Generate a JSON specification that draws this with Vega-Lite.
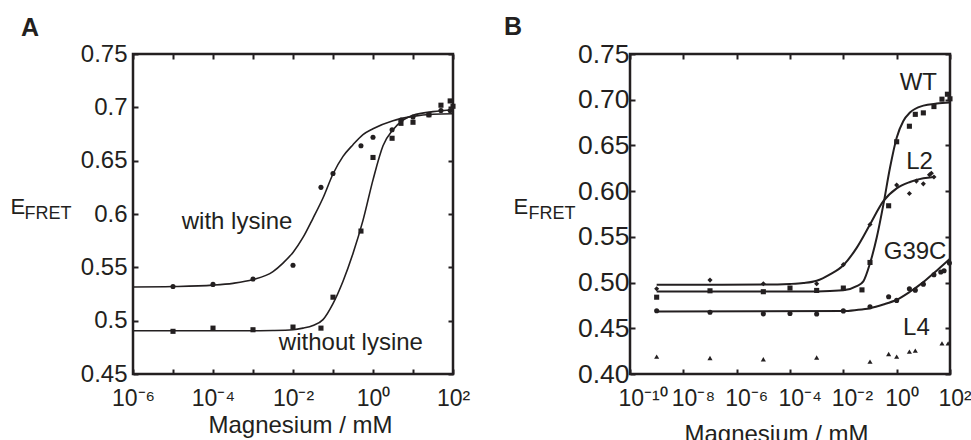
{
  "$schema": "https://vega.github.io/schema/vega-lite/v6.json",
  "background": "white",
  "padding": {"left": 8, "top": 13, "right": 5, "bottom": 0},
  "spacing": 177,
  "bounds": "flush",
  "config": {
    "font": "Liberation Sans",
    "view": {"stroke": "#231f20", "strokeWidth": 2.5},
    "axis": {"grid": false, "domain": false, "tickColor": "#231f20", "tickWidth": 2, "tickSize": -5, "labelColor": "#231f20", "titleColor": "#231f20", "labelFont": "Liberation Sans", "titleFont": "Liberation Sans", "titleFontWeight": "normal"},
    "title": {"font": "Liberation Sans", "color": "#231f20"}
  },
  "datasets": {
    "pts": [
      {"panel": "A", "series": "with lysine", "mg": 1e-5, "efret": 0.532},
      {"panel": "A", "series": "with lysine", "mg": 1e-4, "efret": 0.534},
      {"panel": "A", "series": "with lysine", "mg": 1e-3, "efret": 0.539},
      {"panel": "A", "series": "with lysine", "mg": 0.01, "efret": 0.552},
      {"panel": "A", "series": "with lysine", "mg": 0.05, "efret": 0.625},
      {"panel": "A", "series": "with lysine", "mg": 0.1, "efret": 0.638},
      {"panel": "A", "series": "with lysine", "mg": 0.5, "efret": 0.664},
      {"panel": "A", "series": "with lysine", "mg": 1, "efret": 0.672},
      {"panel": "A", "series": "with lysine", "mg": 3, "efret": 0.679},
      {"panel": "A", "series": "with lysine", "mg": 5, "efret": 0.688},
      {"panel": "A", "series": "with lysine", "mg": 10, "efret": 0.691},
      {"panel": "A", "series": "with lysine", "mg": 25, "efret": 0.693},
      {"panel": "A", "series": "with lysine", "mg": 50, "efret": 0.697},
      {"panel": "A", "series": "with lysine", "mg": 85, "efret": 0.697},
      {"panel": "A", "series": "without lysine", "mg": 1e-5, "efret": 0.49},
      {"panel": "A", "series": "without lysine", "mg": 1e-4, "efret": 0.493},
      {"panel": "A", "series": "without lysine", "mg": 1e-3, "efret": 0.4915},
      {"panel": "A", "series": "without lysine", "mg": 0.01, "efret": 0.494},
      {"panel": "A", "series": "without lysine", "mg": 0.05, "efret": 0.493},
      {"panel": "A", "series": "without lysine", "mg": 0.1, "efret": 0.522},
      {"panel": "A", "series": "without lysine", "mg": 0.5, "efret": 0.584},
      {"panel": "A", "series": "without lysine", "mg": 1, "efret": 0.653},
      {"panel": "A", "series": "without lysine", "mg": 3, "efret": 0.671},
      {"panel": "A", "series": "without lysine", "mg": 5, "efret": 0.685},
      {"panel": "A", "series": "without lysine", "mg": 10, "efret": 0.686},
      {"panel": "A", "series": "without lysine", "mg": 25, "efret": 0.693},
      {"panel": "A", "series": "without lysine", "mg": 50, "efret": 0.702},
      {"panel": "A", "series": "without lysine", "mg": 85, "efret": 0.706},
      {"panel": "A", "series": "without lysine", "mg": 100, "efret": 0.701},
      {"panel": "B", "series": "WT", "mg": 1e-9, "efret": 0.484},
      {"panel": "B", "series": "WT", "mg": 1e-7, "efret": 0.491},
      {"panel": "B", "series": "WT", "mg": 1e-5, "efret": 0.49},
      {"panel": "B", "series": "WT", "mg": 1e-4, "efret": 0.494},
      {"panel": "B", "series": "WT", "mg": 1e-3, "efret": 0.4914},
      {"panel": "B", "series": "WT", "mg": 0.01, "efret": 0.494},
      {"panel": "B", "series": "WT", "mg": 0.05, "efret": 0.492},
      {"panel": "B", "series": "WT", "mg": 0.1, "efret": 0.522},
      {"panel": "B", "series": "WT", "mg": 0.5, "efret": 0.584},
      {"panel": "B", "series": "WT", "mg": 1, "efret": 0.654},
      {"panel": "B", "series": "WT", "mg": 3, "efret": 0.671},
      {"panel": "B", "series": "WT", "mg": 5, "efret": 0.684},
      {"panel": "B", "series": "WT", "mg": 10, "efret": 0.6856},
      {"panel": "B", "series": "WT", "mg": 25, "efret": 0.6925},
      {"panel": "B", "series": "WT", "mg": 50, "efret": 0.7006},
      {"panel": "B", "series": "WT", "mg": 80, "efret": 0.706},
      {"panel": "B", "series": "WT", "mg": 100, "efret": 0.701},
      {"panel": "B", "series": "L2", "mg": 1e-9, "efret": 0.4932},
      {"panel": "B", "series": "L2", "mg": 1e-7, "efret": 0.5027},
      {"panel": "B", "series": "L2", "mg": 1e-5, "efret": 0.4987},
      {"panel": "B", "series": "L2", "mg": 1e-3, "efret": 0.4987},
      {"panel": "B", "series": "L2", "mg": 0.01, "efret": 0.5196},
      {"panel": "B", "series": "L2", "mg": 0.1, "efret": 0.5635},
      {"panel": "B", "series": "L2", "mg": 1, "efret": 0.6066},
      {"panel": "B", "series": "L2", "mg": 3, "efret": 0.5975},
      {"panel": "B", "series": "L2", "mg": 5.5, "efret": 0.611},
      {"panel": "B", "series": "L2", "mg": 10, "efret": 0.608},
      {"panel": "B", "series": "L2", "mg": 17, "efret": 0.618},
      {"panel": "B", "series": "L2", "mg": 20, "efret": 0.6195},
      {"panel": "B", "series": "L2", "mg": 25, "efret": 0.6155},
      {"panel": "B", "series": "G39C", "mg": 1e-9, "efret": 0.4691},
      {"panel": "B", "series": "G39C", "mg": 1e-7, "efret": 0.4676},
      {"panel": "B", "series": "G39C", "mg": 1e-5, "efret": 0.4658},
      {"panel": "B", "series": "G39C", "mg": 1e-4, "efret": 0.4661},
      {"panel": "B", "series": "G39C", "mg": 1e-3, "efret": 0.4656},
      {"panel": "B", "series": "G39C", "mg": 0.01, "efret": 0.469},
      {"panel": "B", "series": "G39C", "mg": 0.1, "efret": 0.4735},
      {"panel": "B", "series": "G39C", "mg": 0.5, "efret": 0.4845},
      {"panel": "B", "series": "G39C", "mg": 1, "efret": 0.4805},
      {"panel": "B", "series": "G39C", "mg": 3, "efret": 0.4933},
      {"panel": "B", "series": "G39C", "mg": 5, "efret": 0.4917},
      {"panel": "B", "series": "G39C", "mg": 10, "efret": 0.4983},
      {"panel": "B", "series": "G39C", "mg": 25, "efret": 0.5086},
      {"panel": "B", "series": "G39C", "mg": 45, "efret": 0.5115},
      {"panel": "B", "series": "G39C", "mg": 60, "efret": 0.513},
      {"panel": "B", "series": "G39C", "mg": 95, "efret": 0.5214},
      {"panel": "B", "series": "L4", "mg": 1e-9, "efret": 0.419},
      {"panel": "B", "series": "L4", "mg": 1e-7, "efret": 0.4175},
      {"panel": "B", "series": "L4", "mg": 1e-5, "efret": 0.4162},
      {"panel": "B", "series": "L4", "mg": 1e-3, "efret": 0.418},
      {"panel": "B", "series": "L4", "mg": 0.1, "efret": 0.4135},
      {"panel": "B", "series": "L4", "mg": 0.5, "efret": 0.4219},
      {"panel": "B", "series": "L4", "mg": 1, "efret": 0.419},
      {"panel": "B", "series": "L4", "mg": 3, "efret": 0.4245},
      {"panel": "B", "series": "L4", "mg": 5, "efret": 0.4256},
      {"panel": "B", "series": "L4", "mg": 50, "efret": 0.4335},
      {"panel": "B", "series": "L4", "mg": 85, "efret": 0.4335}
    ],
    "fit": [
      {"panel": "A", "series": "with lysine", "mg": 1e-6, "efret": 0.5316},
      {"panel": "A", "series": "with lysine", "mg": 1e-5, "efret": 0.532},
      {"panel": "A", "series": "with lysine", "mg": 1e-4, "efret": 0.5333},
      {"panel": "A", "series": "with lysine", "mg": 3.16e-4, "efret": 0.535},
      {"panel": "A", "series": "with lysine", "mg": 1e-3, "efret": 0.5385},
      {"panel": "A", "series": "with lysine", "mg": 0.00316, "efret": 0.546},
      {"panel": "A", "series": "with lysine", "mg": 0.00562, "efret": 0.554},
      {"panel": "A", "series": "with lysine", "mg": 0.01, "efret": 0.564},
      {"panel": "A", "series": "with lysine", "mg": 0.0178, "efret": 0.578},
      {"panel": "A", "series": "with lysine", "mg": 0.0316, "efret": 0.596},
      {"panel": "A", "series": "with lysine", "mg": 0.0562, "efret": 0.615},
      {"panel": "A", "series": "with lysine", "mg": 0.1, "efret": 0.6375},
      {"panel": "A", "series": "with lysine", "mg": 0.178, "efret": 0.654},
      {"panel": "A", "series": "with lysine", "mg": 0.316, "efret": 0.665},
      {"panel": "A", "series": "with lysine", "mg": 0.562, "efret": 0.6745},
      {"panel": "A", "series": "with lysine", "mg": 1, "efret": 0.68},
      {"panel": "A", "series": "with lysine", "mg": 3.16, "efret": 0.6875},
      {"panel": "A", "series": "with lysine", "mg": 10, "efret": 0.6915},
      {"panel": "A", "series": "with lysine", "mg": 31.6, "efret": 0.6935},
      {"panel": "A", "series": "with lysine", "mg": 100, "efret": 0.694},
      {"panel": "A", "series": "without lysine", "mg": 1e-6, "efret": 0.4905},
      {"panel": "A", "series": "without lysine", "mg": 1e-4, "efret": 0.4905},
      {"panel": "A", "series": "without lysine", "mg": 1e-3, "efret": 0.4906},
      {"panel": "A", "series": "without lysine", "mg": 0.00316, "efret": 0.4908},
      {"panel": "A", "series": "without lysine", "mg": 0.01, "efret": 0.4915},
      {"panel": "A", "series": "without lysine", "mg": 0.0178, "efret": 0.493},
      {"panel": "A", "series": "without lysine", "mg": 0.0316, "efret": 0.4955},
      {"panel": "A", "series": "without lysine", "mg": 0.0562, "efret": 0.501},
      {"panel": "A", "series": "without lysine", "mg": 0.1, "efret": 0.516},
      {"panel": "A", "series": "without lysine", "mg": 0.178, "efret": 0.537},
      {"panel": "A", "series": "without lysine", "mg": 0.316, "efret": 0.563},
      {"panel": "A", "series": "without lysine", "mg": 0.562, "efret": 0.594},
      {"panel": "A", "series": "without lysine", "mg": 1, "efret": 0.632},
      {"panel": "A", "series": "without lysine", "mg": 1.78, "efret": 0.664},
      {"panel": "A", "series": "without lysine", "mg": 3.16, "efret": 0.679},
      {"panel": "A", "series": "without lysine", "mg": 5.62, "efret": 0.688},
      {"panel": "A", "series": "without lysine", "mg": 10, "efret": 0.6925},
      {"panel": "A", "series": "without lysine", "mg": 31.6, "efret": 0.696},
      {"panel": "A", "series": "without lysine", "mg": 100, "efret": 0.6975},
      {"panel": "B", "series": "WT", "mg": 1e-9, "efret": 0.4903},
      {"panel": "B", "series": "WT", "mg": 1e-3, "efret": 0.4903},
      {"panel": "B", "series": "WT", "mg": 0.01, "efret": 0.4915},
      {"panel": "B", "series": "WT", "mg": 0.0316, "efret": 0.496},
      {"panel": "B", "series": "WT", "mg": 0.0562, "efret": 0.5013},
      {"panel": "B", "series": "WT", "mg": 0.1, "efret": 0.521},
      {"panel": "B", "series": "WT", "mg": 0.178, "efret": 0.549},
      {"panel": "B", "series": "WT", "mg": 0.316, "efret": 0.585},
      {"panel": "B", "series": "WT", "mg": 0.562, "efret": 0.6256},
      {"panel": "B", "series": "WT", "mg": 1, "efret": 0.6585},
      {"panel": "B", "series": "WT", "mg": 1.78, "efret": 0.6768},
      {"panel": "B", "series": "WT", "mg": 3.16, "efret": 0.686},
      {"panel": "B", "series": "WT", "mg": 10, "efret": 0.6935},
      {"panel": "B", "series": "WT", "mg": 31.6, "efret": 0.6958},
      {"panel": "B", "series": "WT", "mg": 100, "efret": 0.697},
      {"panel": "B", "series": "L2", "mg": 1e-9, "efret": 0.4975},
      {"panel": "B", "series": "L2", "mg": 1e-5, "efret": 0.4978},
      {"panel": "B", "series": "L2", "mg": 1e-4, "efret": 0.4985},
      {"panel": "B", "series": "L2", "mg": 3.16e-4, "efret": 0.4995},
      {"panel": "B", "series": "L2", "mg": 1e-3, "efret": 0.502},
      {"panel": "B", "series": "L2", "mg": 0.00316, "efret": 0.509},
      {"panel": "B", "series": "L2", "mg": 0.01, "efret": 0.519},
      {"panel": "B", "series": "L2", "mg": 0.0316, "efret": 0.538},
      {"panel": "B", "series": "L2", "mg": 0.1, "efret": 0.5635},
      {"panel": "B", "series": "L2", "mg": 0.316, "efret": 0.589},
      {"panel": "B", "series": "L2", "mg": 1, "efret": 0.603},
      {"panel": "B", "series": "L2", "mg": 3.16, "efret": 0.61},
      {"panel": "B", "series": "L2", "mg": 10, "efret": 0.614},
      {"panel": "B", "series": "L2", "mg": 25, "efret": 0.6155},
      {"panel": "B", "series": "G39C", "mg": 1e-9, "efret": 0.4683},
      {"panel": "B", "series": "G39C", "mg": 0.01, "efret": 0.4688},
      {"panel": "B", "series": "G39C", "mg": 0.0316, "efret": 0.47},
      {"panel": "B", "series": "G39C", "mg": 0.1, "efret": 0.472},
      {"panel": "B", "series": "G39C", "mg": 0.316, "efret": 0.476},
      {"panel": "B", "series": "G39C", "mg": 1, "efret": 0.4812},
      {"panel": "B", "series": "G39C", "mg": 3.16, "efret": 0.49},
      {"panel": "B", "series": "G39C", "mg": 10, "efret": 0.5005},
      {"panel": "B", "series": "G39C", "mg": 31.6, "efret": 0.513},
      {"panel": "B", "series": "G39C", "mg": 100, "efret": 0.526}
    ],
    "ann": [
      {"panel": "A", "label": "with lysine", "mg": 4e-4, "efret": 0.586},
      {"panel": "A", "label": "without lysine", "mg": 0.28, "efret": 0.4725},
      {"panel": "B", "label": "WT", "mg": 6.5, "efret": 0.7105},
      {"panel": "B", "label": "L2", "mg": 7.2, "efret": 0.624},
      {"panel": "B", "label": "G39C", "mg": 4.9, "efret": 0.526},
      {"panel": "B", "label": "L4", "mg": 5.5, "efret": 0.4428}
    ]
  },
  "hconcat": [
    {
      "width": 320,
      "height": 320,
      "title": {"text": "A", "anchor": "start", "frame": "group", "fontSize": 25, "fontWeight": "bold", "dx": -112, "offset": -19, "baseline": "alphabetic"},
      "layer": [
        {
          "data": {"name": "fit"},
          "transform": [{"filter": "datum.panel === 'A'"}],
          "mark": {"type": "line", "interpolate": "monotone", "stroke": "#231f20", "strokeWidth": 1.6},
          "encoding": {
            "x": {"field": "mg", "type": "quantitative", "scale": {"type": "log", "domain": [1e-6, 100], "nice": false},
              "axis": {"orient": "bottom", "values": [1e-6, 1e-5, 1e-4, 1e-3, 1e-2, 1e-1, 1, 10, 100],
                "labelExpr": "round(log(datum.value)/LN10) % 2 != 0 ? '' : '10' + replace(replace(replace(replace(replace(replace(replace('' + round(log(datum.value)/LN10), '-', '⁻'), '0', '⁰'), '1', '¹'), '2', '²'), '4', '⁴'), '6', '⁶'), '8', '⁸')",
                "labelFontSize": 23, "labelPadding": 36, "labelBaseline": "alphabetic", "labelFlush": false,
                "title": "Magnesium / mM", "titleFontSize": 24, "titleX": 167, "titleY": 58, "titleBaseline": "alphabetic"}},
            "y": {"field": "efret", "type": "quantitative", "scale": {"domain": [0.45, 0.75], "nice": false, "zero": false},
              "axis": {"orient": "left", "values": [0.45, 0.5, 0.55, 0.6, 0.65, 0.7, 0.75], "format": ".2~f", "labelFontSize": 24, "labelPadding": 11, "labelFlush": false, "labelBaseline": "middle",
                "title": "E", "titleFontSize": 22, "titleAngle": 0, "titleAlign": "left", "titleBaseline": "alphabetic", "titleX": -123, "titleY": 159}},
            "detail": {"field": "series"}
          }
        },
        {
          "data": {"name": "pts"},
          "transform": [{"filter": "datum.panel === 'A'"}],
          "mark": {"type": "point", "filled": true, "size": 26, "color": "#231f20", "opacity": 1},
          "encoding": {
            "x": {"field": "mg", "type": "quantitative", "scale": {"type": "log", "domain": [1e-6, 100], "nice": false},
              "axis": {"orient": "top", "values": [1e-6, 1e-5, 1e-4, 1e-3, 1e-2, 1e-1, 1, 10, 100], "labels": false, "title": null}},
            "y": {"field": "efret", "type": "quantitative", "scale": {"domain": [0.45, 0.75], "nice": false, "zero": false},
              "axis": {"orient": "right", "values": [0.45, 0.5, 0.55, 0.6, 0.65, 0.7, 0.75], "labels": false,
                "title": "FRET", "titleFontSize": 18, "titleAngle": 0, "titleAlign": "left", "titleBaseline": "alphabetic", "titleX": -429, "titleY": 164}},
            "shape": {"field": "series", "type": "nominal", "legend": null,
              "scale": {"domain": ["with lysine", "without lysine", "WT", "L2", "G39C", "L4"], "range": ["circle", "square", "square", "diamond", "circle", "triangle-up"]}}
          }
        },
        {
          "data": {"name": "ann"},
          "transform": [{"filter": "datum.panel === 'A'"}],
          "mark": {"type": "text", "fontSize": 24, "color": "#231f20", "baseline": "alphabetic", "align": "center"},
          "encoding": {
            "x": {"field": "mg", "type": "quantitative", "scale": {"type": "log", "domain": [1e-6, 100], "nice": false}, "axis": null},
            "y": {"field": "efret", "type": "quantitative", "scale": {"domain": [0.45, 0.75], "nice": false, "zero": false}, "axis": null},
            "text": {"field": "label"}
          }
        }
      ],
      "resolve": {"axis": {"x": "independent", "y": "independent"}}
    },
    {
      "width": 320,
      "height": 320,
      "title": {"text": "B", "anchor": "start", "frame": "group", "fontSize": 25, "fontWeight": "bold", "dx": -126, "offset": -19, "baseline": "alphabetic"},
      "layer": [
        {
          "data": {"name": "fit"},
          "transform": [{"filter": "datum.panel === 'B'"}],
          "mark": {"type": "line", "interpolate": "monotone", "stroke": "#231f20", "strokeWidth": 2},
          "encoding": {
            "x": {"field": "mg", "type": "quantitative", "scale": {"type": "log", "domain": [1e-10, 100], "nice": false},
              "axis": {"orient": "bottom", "values": [1e-10, 1e-8, 1e-6, 1e-4, 1e-2, 1, 100],
                "labelExpr": "'10' + replace(replace(replace(replace(replace(replace(replace('' + round(log(datum.value)/LN10), '-', '⁻'), '0', '⁰'), '1', '¹'), '2', '²'), '4', '⁴'), '6', '⁶'), '8', '⁸')",
                "labelFontSize": 23, "labelPadding": 36, "labelBaseline": "alphabetic", "labelFlush": false, "labelAlign": "left", "labelOffset": -12,
                "title": "Magnesium / mM", "titleFontSize": 24, "titleX": 146, "titleY": 67, "titleBaseline": "alphabetic"}},
            "y": {"field": "efret", "type": "quantitative", "scale": {"domain": [0.4, 0.75], "nice": false, "zero": false},
              "axis": {"orient": "left", "values": [0.4, 0.45, 0.5, 0.55, 0.6, 0.65, 0.7, 0.75], "format": ".2f", "labelFontSize": 26.5, "labelPadding": 6, "labelFlush": false, "labelBaseline": "middle",
                "title": "E", "titleFontSize": 22, "titleAngle": 0, "titleAlign": "left", "titleBaseline": "alphabetic", "titleX": -117, "titleY": 159}},
            "detail": {"field": "series"}
          }
        },
        {
          "data": {"name": "pts"},
          "transform": [{"filter": "datum.panel === 'B'"}],
          "mark": {"type": "point", "filled": true, "size": 26, "color": "#231f20", "opacity": 1},
          "encoding": {
            "x": {"field": "mg", "type": "quantitative", "scale": {"type": "log", "domain": [1e-10, 100], "nice": false},
              "axis": {"orient": "top", "values": [1e-10, 1e-8, 1e-6, 1e-4, 1e-2, 1, 100], "labels": false, "title": null}},
            "y": {"field": "efret", "type": "quantitative", "scale": {"domain": [0.4, 0.75], "nice": false, "zero": false},
              "axis": {"orient": "right", "values": [0.4, 0.45, 0.5, 0.55, 0.6, 0.65, 0.7, 0.75], "labels": false,
                "title": "FRET", "titleFontSize": 18, "titleAngle": 0, "titleAlign": "left", "titleBaseline": "alphabetic", "titleX": -422, "titleY": 164}},
            "shape": {"field": "series", "type": "nominal", "legend": null,
              "scale": {"domain": ["with lysine", "without lysine", "WT", "L2", "G39C", "L4"], "range": ["circle", "square", "square", "diamond", "circle", "triangle-up"]}}
          }
        },
        {
          "data": {"name": "ann"},
          "transform": [{"filter": "datum.panel === 'B'"}],
          "mark": {"type": "text", "fontSize": 24, "color": "#231f20", "baseline": "alphabetic", "align": "center"},
          "encoding": {
            "x": {"field": "mg", "type": "quantitative", "scale": {"type": "log", "domain": [1e-10, 100], "nice": false}, "axis": null},
            "y": {"field": "efret", "type": "quantitative", "scale": {"domain": [0.4, 0.75], "nice": false, "zero": false}, "axis": null},
            "text": {"field": "label"}
          }
        }
      ],
      "resolve": {"axis": {"x": "independent", "y": "independent"}}
    }
  ]
}
